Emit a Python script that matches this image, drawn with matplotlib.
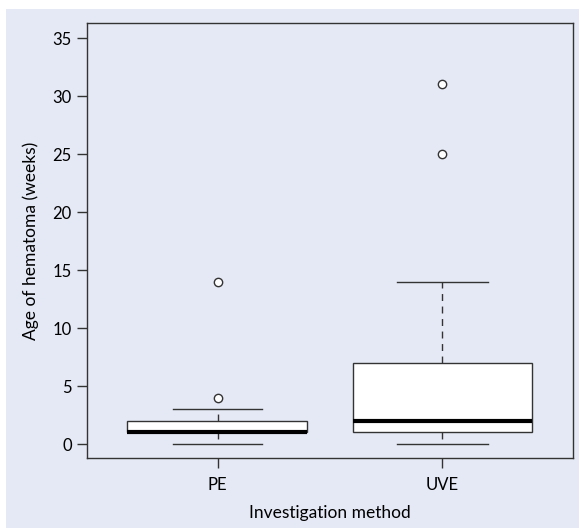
import matplotlib
matplotlib.use('Agg')
import matplotlib.pyplot as plt
from matplotlib.patches import Rectangle

# box statistics (weeks)
groups = ['PE', 'UVE']
q1 = [1, 1]
med = [1, 2]
q3 = [2, 7]
wlo = [0, 0]
whi = [3, 14]
fliers = [[4, 14], [25, 31]]

plt.rcParams['font.family'] = ['Lato', 'DejaVu Sans']
bg = '#e4e9f5'
ink = '#333333'

fig = plt.figure(figsize=(5.79, 5.28), dpi=100)
fig.patch.set_facecolor('white')
fig.patches.append(Rectangle((6/579, 0), 1, (528-9)/528, transform=fig.transFigure,
                             facecolor=bg, edgecolor='none', zorder=-10))
ax = fig.add_axes([87/579, 70/528, (573-87)/579, (458-23)/528])
ax.set_facecolor(bg)

stats = [dict(label=g, q1=a, med=m, q3=b, whislo=lo, whishi=hi, fliers=f)
         for g, a, m, b, lo, hi, f in zip(groups, q1, med, q3, wlo, whi, fliers)]
ax.bxp(stats, positions=[1, 2], widths=0.8, patch_artist=True,
       boxprops=dict(facecolor='white', edgecolor=ink, lw=1.0),
       medianprops=dict(color='black', lw=3.0),
       whiskerprops=dict(color=ink, lw=1.0, ls=(0, (5, 4))),
       capprops=dict(color=ink, lw=1.0), capwidths=0.4,
       flierprops=dict(marker='o', markerfacecolor='white', markeredgecolor=ink,
                       markersize=6, markeredgewidth=1.0))

ax.set_xlim(0.42, 2.58)
ax.set_ylim(-1.2, 36.3)
ax.set_yticks(range(0, 36, 5))
ax.set_xticks([1, 2])
ax.set_xticklabels(groups)
for s in ax.spines.values():
    s.set_color(ink)
    s.set_linewidth(1.0)
ax.tick_params(colors=ink, labelcolor='black', length=7, width=1.0, labelsize=12)
ax.tick_params(axis='x', pad=7)
ax.tick_params(axis='y', pad=4)
ax.set_xlabel('Investigation method', fontsize=12.5, labelpad=8)
ax.set_ylabel('Age of hematoma (weeks)', fontsize=12.5, labelpad=10)

fig.savefig('out.png', dpi=100)
